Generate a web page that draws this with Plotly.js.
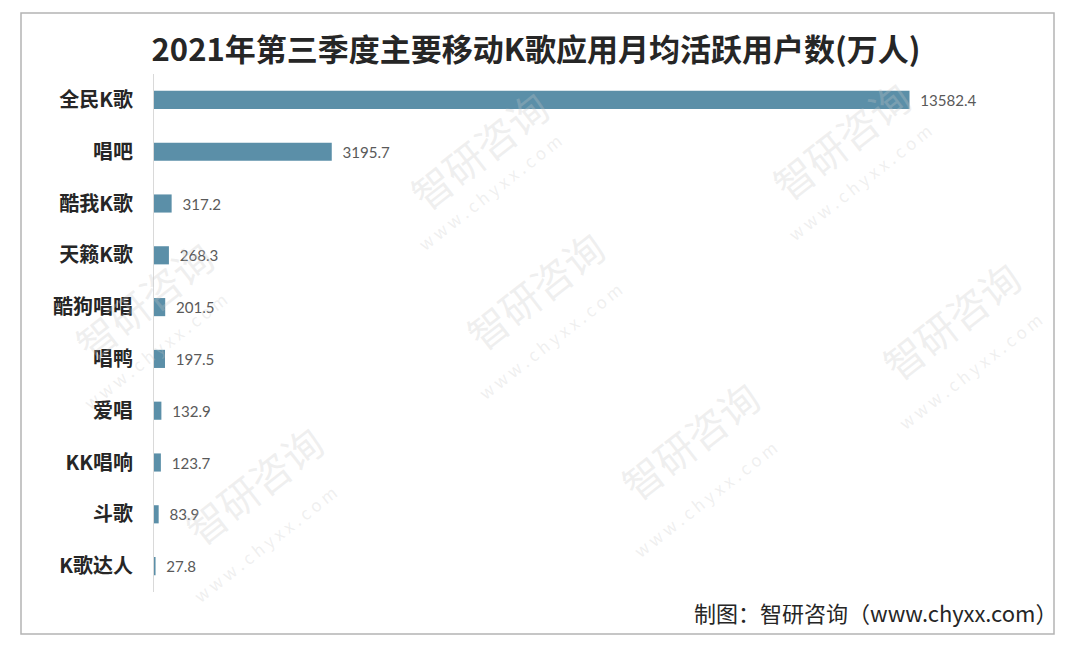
<!DOCTYPE html>
<html>
<head>
<meta charset="utf-8">
<script src="https://cdn.plot.ly/plotly-3.0.1.min.js"></script>
<style>
  html, body { margin: 0; padding: 0; background: #fff; }
  #chart { width: 1080px; height: 659px; }
</style>
</head>
<body>
<div id="chart"></div>
<script>
// 2021 Q3 mobile K-song apps, monthly active users (10k)
var apps = ['全民K歌', '唱吧', '酷我K歌', '天籁K歌', '酷狗唱唱', '唱鸭', '爱唱', 'KK唱响', '斗歌', 'K歌达人'];
var users = [13582.4, 3195.7, 317.2, 268.3, 201.5, 197.5, 132.9, 123.7, 83.9, 27.8];

var cjk = '"Noto Sans CJK SC", "Noto Sans", sans-serif';

// plot area in pixels, used to turn pixel spots into paper coords
var W = 1080, H = 659;
var m = { l: 154, r: 36, t: 74, b: 67 };
function px(x) { return (x - m.l) / (W - m.l - m.r); }
function py(y) { return (H - m.b - y) / (H - m.t - m.b); }

var bars = {
    type: 'bar',
    orientation: 'h',
    y: apps,
    x: users,
    width: 0.35,
    marker: { color: '#5b8fa8' },
    text: users.map(function (v) { return v.toFixed(1); }),
    texttemplate: '  %{text}',
    textposition: 'outside',
    cliponaxis: false,
    textfont: { family: 'Lato, "Liberation Sans", sans-serif', size: 20, color: '#595959' },
    hoverinfo: 'skip'
};

// faint diagonal watermarks
var marks = [
    [395, 75], [925, 65], [535, 290], [1035, 320], [60, 300], [690, 515], [170, 560]
];
var annots = [];
marks.forEach(function (p) {
    annots.push({
        xref: 'paper', yref: 'paper', x: px(p[0]), y: py(p[1]),
        text: '智研咨询', showarrow: false, textangle: -38,
        font: { family: cjk, size: 40, color: 'rgba(200,200,200,0.28)' }
    });
    annots.push({
        xref: 'paper', yref: 'paper', x: px(p[0] + 15), y: py(p[1] + 50),
        text: 'w w w . c h y x x . c o m', showarrow: false, textangle: -38,
        font: { family: cjk, size: 17, color: 'rgba(200,200,200,0.28)' }
    });
});

annots.push({
    xref: 'paper', yref: 'paper', x: px(1059), y: py(612),
    xanchor: 'right', yanchor: 'middle',
    text: '制图：智研咨询（www.chyxx.com）', showarrow: false,
    font: { family: cjk, size: 22, color: '#262626' }
});

var layout = {
    width: W,
    height: H,
    margin: m,
    paper_bgcolor: '#ffffff',
    plot_bgcolor: 'rgba(0,0,0,0)',
    showlegend: false,
    title: {
        text: '<b>2021年第三季度主要移动K歌应用月均活跃用户数(万人)</b>',
        x: 536 / W, xref: 'container', xanchor: 'center',
        y: 1 - 50 / H, yanchor: 'middle',
        font: { family: cjk, size: 31, color: '#262626' }
    },
    xaxis: {
        range: [0, 16000],
        showgrid: false,
        zeroline: false,
        showticklabels: false,
        showline: false,
        fixedrange: true
    },
    yaxis: {
        autorange: 'reversed',
        showgrid: false,
        zeroline: false,
        showline: true,
        linecolor: '#d9d9d9',
        linewidth: 1,
        ticks: '',
        ticklabelstandoff: 16,
        tickfont: { family: cjk, size: 20, color: '#262626', weight: 'bold' },
        fixedrange: true
    },
    shapes: [{
        type: 'rect', xref: 'paper', yref: 'paper',
        x0: px(21), x1: px(1054), y0: py(634), y1: py(13),
        line: { color: '#b4b4b4', width: 1.5 },
        fillcolor: 'rgba(0,0,0,0)',
        layer: 'below'
    }],
    annotations: annots
};

Plotly.newPlot('chart', [bars], layout, { displayModeBar: false, staticPlot: true });
</script>
</body>
</html>
